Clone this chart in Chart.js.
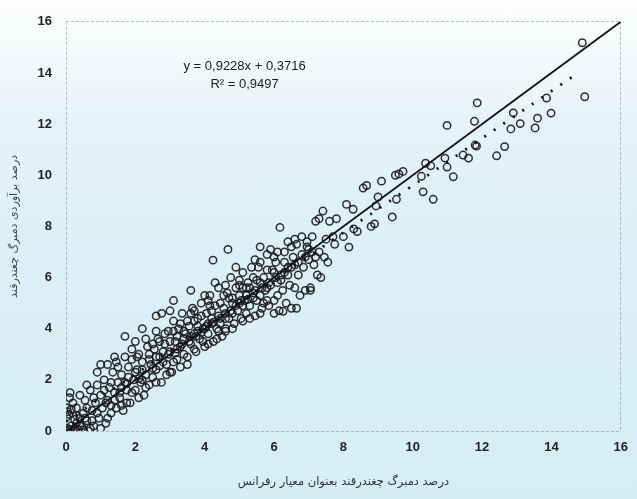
<!DOCTYPE html>
<html>
<head>
    <meta charset="UTF-8">
    <title>دمبرگ چغندرقند</title>
    <script src="https://cdn.jsdelivr.net/npm/chart.js"></script>
    <style>
        html, body {
            margin: 0;
            padding: 0;
        }
        body {
            width: 637px;
            height: 499px;
            overflow: hidden;
            background: linear-gradient(to bottom, #fdfefe 0%, #f6fbfc 9%, #e4f3f8 24%, #dbf0f6 50%, #d5edf4 100%);
        }
        canvas {
            display: block;
        }
    </style>
</head>
<body>
<canvas id="scatter" width="637" height="499"></canvas>
<script>
    // درصد دمبرگ: مقدار مرجع (x) و مقدار برآوردی (y)
    var samples = [
        [0,0],[0.05,0.1],[0.1,0.05],[0.02,0.55],[0.05,0.75],[0.03,0.9],[0.08,0.65],[0.1,1.3],[0.15,0.2],[0.2,0.0],
        [0.25,0.1],[0.3,0.3],[0.35,0.05],[0.4,0.5],[0.45,0.2],[0.5,0.05],[0.2,1.1],[0.3,0.9],[0.4,1.4],[0.5,0.7],[0.12,1.5],
        [0.55,1.2],[0.6,0.4],[0.65,0.0],[0.7,1.6],[0.75,0.8],[0.8,0.2],[0.85,1.1],[0.9,1.8],[0.95,0.5],[1.0,1.4],
        [1.05,0.9],[1.1,2.0],[1.15,0.3],[1.2,1.2],[1.25,1.7],[1.3,0.7],[1.35,2.3],[1.4,1.5],[1.45,0.9],[1.5,1.9],
        [0.6,1.8],[0.9,2.3],[1.2,2.6],[1.0,0.1],[0.75,0.4],[1.3,1.0],[1.45,2.7],
        [1.55,1.3],[1.6,2.2],[1.65,0.8],[1.7,2.9],[1.75,1.6],[1.8,2.5],[1.85,1.1],[1.9,3.2],[1.95,2.0],[2.0,1.6],
        [2.05,2.4],[2.1,3.0],[2.15,1.9],[2.2,2.7],[2.25,1.4],[2.3,2.2],[2.35,3.3],[2.4,1.8],[2.45,2.6],[2.5,2.1],
        [1.7,3.7],[2.2,4.0],[1.75,1.1],[2.0,3.5],[2.4,3.0],[1.7,1.9],[2.2,2.0],[1.5,2.5],
        [2.55,3.2],[2.6,2.4],[2.65,3.6],[2.7,2.9],[2.75,1.9],[2.76,4.6],[2.85,3.4],[2.9,2.6],[2.95,3.9],[3.0,3.1],
        [3.05,2.3],[3.1,4.3],[3.15,3.5],[3.2,2.8],[3.25,4.0],[3.3,3.3],[3.35,4.6],[3.4,3.0],[3.45,3.8],[3.5,2.6],
        [2.6,4.5],[2.7,3.5],[3.0,4.7],[3.1,5.1],[3.5,4.3],[3.1,2.7],[2.8,3.1],[3.4,3.6],[3.2,3.7],
        [3.55,4.1],[3.6,3.4],[3.65,4.8],[3.7,3.8],[3.75,3.1],[3.8,4.4],[3.85,3.6],[3.9,5.0],[3.95,4.0],[4.0,3.3],
        [4.05,4.6],[4.1,3.8],[4.15,5.3],[4.2,4.2],[4.25,3.5],[4.3,4.9],[4.35,4.0],[4.4,5.6],[4.45,4.4],[4.5,3.7],
        [3.6,5.5],[3.9,4.5],[4.0,5.3],[4.2,4.7],[4.4,3.9],[4.1,4.2],[3.8,3.9],[4.3,5.8],[3.7,4.3],[4.45,5.0],
        [4.55,4.8],[4.6,4.0],[4.65,5.4],[4.7,4.4],[4.75,6.0],[4.8,5.0],[4.85,4.2],[4.9,5.6],[4.95,4.7],[5.0,5.3],
        [5.05,4.4],[5.1,6.2],[5.15,5.1],[5.2,4.6],[5.25,5.8],[5.3,4.9],[5.35,6.4],[5.4,5.4],[5.45,4.5],[5.5,5.9],
        [4.24,6.68],[4.67,7.1],[4.9,6.4],[5.0,5.9],[5.2,5.3],[5.45,6.7],[4.7,5.2],[5.1,4.9],[5.3,5.6],[4.8,4.6],[5.5,5.1],
        [5.55,6.4],[5.6,5.3],[5.65,4.8],[5.7,6.0],[5.75,5.5],[5.8,6.9],[5.85,4.9],[5.9,5.7],[5.95,6.3],[6.0,5.1],
        [6.05,6.6],[6.1,5.8],[6.15,4.7],[6.2,6.1],[6.25,5.5],[6.3,7.0],[6.35,5.0],[6.4,6.4],[6.45,5.7],[6.5,4.8],
        [5.6,7.2],[5.9,7.1],[6.17,7.96],[6.0,6.8],[6.4,7.4],[5.7,5.0],[6.3,6.6],[6.1,5.3],[6.26,4.68],[6.65,4.8],
        [6.55,6.8],[6.6,5.6],[6.65,7.3],[6.7,6.1],[6.75,5.3],[6.8,7.6],[6.85,6.4],[6.9,5.5],[6.95,7.2],[7.0,6.7],
        [7.05,5.5],[7.1,7.6],[7.15,6.5],[7.2,8.2],[7.25,6.1],[7.3,7.0],[7.35,6.0],[7.41,8.6],[7.45,6.8],[7.5,7.5],
        [6.6,7.5],[6.95,7.4],[7.2,6.8],[7.3,8.3],[7.05,5.6],
        [7.55,6.6],[7.6,8.2],[7.7,7.6],[7.75,7.3],[7.8,8.3],[8.0,7.6],[8.09,8.86],[8.28,8.67],[8.3,7.9],[8.4,7.8],
        [8.16,7.19],[8.57,9.5],[8.67,9.6],[8.8,8.0],[8.9,8.1],[8.94,8.8],[9.0,9.15],[9.1,9.77],[9.41,8.37],[9.53,9.06],
        [9.5,10.0],[9.6,10.05],[9.72,10.15],[10.25,9.96],[10.3,9.35],[10.37,10.47],[10.52,10.37],[10.59,9.06],[10.93,10.67],[10.99,10.32],
        [11.17,9.94],[10.99,11.95],[11.45,10.79],[11.61,10.67],[11.84,11.14],[11.8,11.18],[11.78,12.11],[11.86,12.83],[12.42,10.76],[12.65,11.12],
        [12.83,11.81],[12.9,12.44],[13.1,12.02],[13.53,11.85],[13.6,12.23],[13.99,12.43],[13.86,13.02],[14.96,13.07],[14.89,15.18],
        [0.3,0.6],[0.6,0.9],[0.8,1.3],[1.1,1.6],[1.3,1.9],[1.6,1.7],[1.8,2.1],[2.0,2.3],[2.2,2.4],[2.4,2.8],
        [2.6,2.9],[2.8,2.7],[3.0,3.5],[3.2,3.2],[3.4,3.9],[3.6,3.7],[3.8,4.1],[4.0,4.0],[4.2,4.4],[4.4,4.5],
        [4.6,4.6],[4.8,5.2],[5.0,5.0],[5.2,5.6],[5.4,5.2],[5.6,5.8],[5.8,5.6],[6.0,6.2],[6.2,5.9],[6.4,6.1],
        [6.6,6.5],[6.8,6.9],[7.0,7.1],[0.4,0.2],[0.9,0.7],[1.4,1.2],[1.9,1.5],[2.3,1.7],[2.9,2.2],[3.3,2.5],
        [3.7,3.2],[4.1,3.4],[4.6,3.9],[5.1,4.3],[5.6,4.6],[6.0,4.6],[1.2,0.5],[0.7,0.1],[0.25,0.45],[0.15,0.85],
        [1.0,2.6],[1.4,2.9],[1.9,2.8],[2.3,3.6],[2.6,3.9],[3.1,3.9],[3.6,4.6],[4.1,5.1],[4.6,5.7],[5.1,5.6],
        [5.6,6.6],[6.1,7.0],[6.5,7.2],
        [0.55,0.5],[1.15,1.1],[1.55,1.5],[1.75,1.85],[2.1,2.05],[2.5,2.45],[2.7,2.55],[2.95,3.0],[3.15,3.05],[3.35,3.4],
        [3.55,3.5],[3.75,3.7],[3.9,3.85],[4.05,4.1],[4.25,4.25],[4.45,4.2],[4.6,4.4],[4.75,4.7],[4.9,4.9],[5.05,5.1],
        [5.25,5.15],[5.45,5.5],[5.65,5.6],[5.85,5.8],[6.05,6.0],[6.3,6.2],[6.5,6.4],[6.7,6.6],[6.9,6.8],[7.1,7.0],
        [2.05,2.9],[2.5,3.4],[2.85,3.8],[3.3,4.2],[3.7,4.7],[4.15,4.9],[4.55,5.3],[5.0,5.7],[5.4,6.0],[5.8,6.3],
        [1.6,1.0],[2.1,1.3],[2.6,1.9],[3.0,2.3],[3.5,2.9],[3.95,3.5],[4.35,3.6],[4.8,4.0],[5.3,4.4],[5.8,5.1]
    ];

    // خط رگرسیون و خط ۱:۱
    var regSlope = 0.9228;
    var regIntercept = 0.3716;
    var regR2 = '0,9497';
    var regRange = [0, 14.75];
    var identityRange = [0, 16];
    var axisTicks = [0, 2, 4, 6, 8, 10, 12, 14, 16];

    var xTitle = 'درصد دمبرگ چغندرقند بعنوان معیار رفرانس';
    var yTitle = 'درصد برآوردی دمبرگ چغندرقند';

    var regPoints = regRange.map(function (x) {
        return { x: x, y: regSlope * x + regIntercept };
    });
    var identityPoints = identityRange.map(function (x) {
        return { x: x, y: x };
    });

    var frameColor = 'rgba(105, 110, 115, 0.45)';

    // متن معادله بالای نمودار
    var equationPlugin = {
        id: 'equationText',
        afterDatasetsDraw: function (chart) {
            var ctx = chart.ctx;
            var xs = chart.scales.x;
            var ys = chart.scales.y;
            var cx = xs.getPixelForValue(5.15);
            ctx.save();
            ctx.fillStyle = '#1c1c1c';
            ctx.font = '13px "Liberation Sans", Arial, sans-serif';
            ctx.textAlign = 'center';
            ctx.textBaseline = 'middle';
            ctx.fillText('y = 0,9228x + 0,3716', cx, ys.getPixelForValue(14.26));
            ctx.fillText('R\u00B2 = ' + regR2, cx, ys.getPixelForValue(13.56));
            ctx.restore();
        }
    };

    function frameLine(ctx) {
        return (ctx.tick && (ctx.tick.value === 0 || ctx.tick.value === 16)) ? frameColor : 'rgba(0,0,0,0)';
    }

    var tickFont = { family: '"Liberation Sans", Arial, sans-serif', size: 13, weight: 'bold' };

    var ctx = document.getElementById('scatter').getContext('2d');
    var chart = new Chart(ctx, {
        type: 'scatter',
        data: {
            datasets: [{
                label: 'samples',
                data: samples.map(function (p) { return { x: p[0], y: p[1] }; }),
                pointStyle: 'circle',
                pointRadius: 3.7,
                pointBorderWidth: 1.5,
                pointBorderColor: 'rgba(25, 25, 25, 0.9)',
                pointBackgroundColor: 'rgba(0,0,0,0)',
                order: 3
            }, {
                type: 'line',
                label: '1:1',
                data: identityPoints,
                borderColor: '#111',
                borderWidth: 1.8,
                pointRadius: 0,
                fill: false,
                order: 1
            }, {
                type: 'line',
                label: 'regression',
                data: regPoints,
                borderColor: '#111',
                borderWidth: 2.8,
                borderDash: [2, 9.5],
                borderCapStyle: 'butt',
                pointRadius: 0,
                fill: false,
                order: 2
            }]
        },
        options: {
            responsive: false,
            animation: false,
            devicePixelRatio: 1,
            layout: {
                padding: { left: 4, right: 16, top: 17, bottom: 6 }
            },
            plugins: {
                legend: { display: false },
                tooltip: { enabled: false }
            },
            scales: {
                x: {
                    type: 'linear',
                    min: 0,
                    max: 16,
                    afterBuildTicks: function (s) {
                        s.ticks = axisTicks.map(function (v) { return { value: v }; });
                    },
                    afterFit: function (s) { s.height = 62; },
                    grid: { color: frameLine, lineWidth: 1, drawTicks: false },
                    border: { display: false, dash: [3, 2] },
                    ticks: {
                        padding: 9,
                        color: '#222',
                        font: tickFont
                    },
                    title: {
                        display: true,
                        text: xTitle,
                        color: '#333',
                        padding: { top: 12 },
                        font: { family: '"DejaVu Sans", sans-serif', size: 11.5 }
                    }
                },
                y: {
                    type: 'linear',
                    min: 0,
                    max: 16,
                    afterBuildTicks: function (s) {
                        s.ticks = axisTicks.map(function (v) { return { value: v }; });
                    },
                    afterFit: function (s) { s.width = 62; },
                    grid: { color: frameLine, lineWidth: 1, drawTicks: false },
                    border: { display: false, dash: [3, 2] },
                    ticks: {
                        padding: 14,
                        color: '#222',
                        font: tickFont
                    },
                    title: {
                        display: true,
                        text: yTitle,
                        color: '#444',
                        padding: { bottom: 0 },
                        font: { family: '"DejaVu Sans", sans-serif', size: 11 }
                    }
                }
            }
        },
        plugins: [equationPlugin]
    });
</script>
</body>
</html>
